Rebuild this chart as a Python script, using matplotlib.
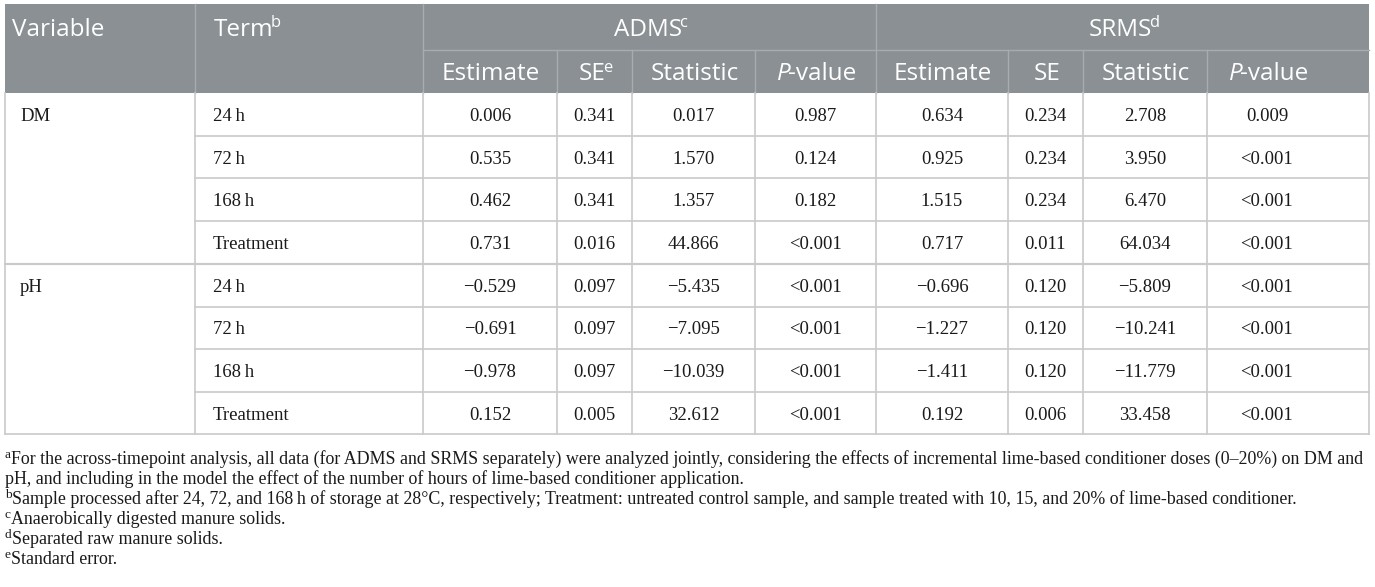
import matplotlib
matplotlib.use("Agg")
import matplotlib.pyplot as plt
from matplotlib.patches import Rectangle

# table content
variables = ["DM", "pH"]
terms = ["24\u2009h", "72\u2009h", "168\u2009h", "Treatment"]
sub_headers = ["Estimate", "SE", "Statistic", "P-value"]

adms_estimate = [0.006, 0.535, 0.462, 0.731, -0.529, -0.691, -0.978, 0.152]
adms_se = [0.341, 0.341, 0.341, 0.016, 0.097, 0.097, 0.097, 0.005]
adms_stat = [0.017, 1.570, 1.357, 44.866, -5.435, -7.095, -10.039, 32.612]
adms_p = ["0.987", "0.124", "0.182", "<0.001", "<0.001", "<0.001", "<0.001", "<0.001"]

srms_estimate = [0.634, 0.925, 1.515, 0.717, -0.696, -1.227, -1.411, 0.192]
srms_se = [0.234, 0.234, 0.234, 0.011, 0.120, 0.120, 0.120, 0.006]
srms_stat = [2.708, 3.950, 6.470, 64.034, -5.809, -10.241, -11.779, 33.458]
srms_p = ["0.009", "<0.001", "<0.001", "<0.001", "<0.001", "<0.001", "<0.001", "<0.001"]

footnotes = [
    ("a", "For the across-timepoint analysis, all data (for ADMS and SRMS separately) were analyzed jointly, "
          "considering the effects of incremental lime-based conditioner doses (0\u201320%) on DM and"),
    ("", "pH, and including in the model the effect of the number of hours of lime-based conditioner application."),
    ("b", "Sample processed after 24, 72, and 168\u2009h of storage at 28\u00b0C, respectively; Treatment: untreated "
          "control sample, and sample treated with 10, 15, and 20% of lime-based conditioner."),
    ("c", "Anaerobically digested manure solids."),
    ("d", "Separated raw manure solids."),
    ("e", "Standard error."),
]

# layout (pixels)
W, H = 1375, 587
col_edges = [5, 195, 423, 557, 632, 755, 876, 1008, 1083, 1207, 1369]
col_centers = [(a + b) / 2 for a, b in zip(col_edges[:-1], col_edges[1:])]
col_centers[-1] = 1267
head_top, head_mid, head_bot = 4, 50, 93
row_edges = [93, 136, 178, 221, 264, 307, 349, 392, 434]

HEAD_BG = "#8a9093"
HEAD_LINE = "#a7acaf"
GRID = "#cacaca"
TXT = "#1a1a1a"
SANS = "Open Sans"
SERIF = "Liberation Serif"
HEAD_SIZE = 17.5
BODY_SIZE = 13.5
FOOT_SIZE = 12.85

fig = plt.figure(figsize=(W / 100, H / 100), dpi=100)
ax = fig.add_axes([0, 0, 1, 1])
ax.set_xlim(0, W)
ax.set_ylim(H, 0)
ax.axis("off")
renderer = fig.canvas.get_renderer()


def rich(x, y, parts, ha="left", size=12, family=SANS, color=TXT, sup_scale=0.68, gap=-2.5):
    # parts: list of (text, style) where style in {"", "sup", "it"}
    arts = []
    widths = []
    px = size * 100 / 72
    for s, style in parts:
        kw = dict(fontsize=size, family=family, color=color)
        yy = y
        if style == "sup":
            kw["fontsize"] = size * sup_scale
            yy = y - px * 0.36
        if style == "it":
            kw["style"] = "italic"
        t = ax.text(0, yy, s, va="baseline", ha="left", **kw)
        arts.append(t)
        widths.append(t.get_window_extent(renderer).width + gap)
    start = x - sum(widths) / 2 if ha == "center" else x
    for t, w in zip(arts, widths):
        t.set_x(start)
        start += w


def baseline(y_center, size):
    return y_center + size * 100 / 72 * 0.36


# header background
ax.add_patch(Rectangle((col_edges[0], head_top), col_edges[-1] - col_edges[0], head_bot - head_top,
                       facecolor=HEAD_BG, edgecolor="none"))
ax.plot([col_edges[2], col_edges[-1]], [head_mid, head_mid], color=HEAD_LINE, lw=1)
for x in [col_edges[1], col_edges[2], col_edges[6]]:
    ax.plot([x, x], [head_top, head_bot], color=HEAD_LINE, lw=1)
for x in col_edges[3:6] + col_edges[7:10]:
    ax.plot([x, x], [head_mid, head_bot], color=HEAD_LINE, lw=1)

# header text
yb1 = baseline((head_top + head_mid) / 2, HEAD_SIZE)
yb2 = baseline((head_mid + head_bot) / 2, HEAD_SIZE)
hw = dict(size=HEAD_SIZE, family=SANS, color="white")
rich(12, yb1, [("Variable", "")], **hw)
rich(214, yb1, [("Term", ""), ("b", "sup")], **hw)
rich((col_edges[2] + col_edges[6]) / 2, yb1, [("ADMS", ""), ("c", "sup")], ha="center", **hw)
rich((col_edges[6] + col_edges[-1]) / 2, yb1, [("SRMS", ""), ("d", "sup")], ha="center", **hw)
for g in range(2):
    for k, name in enumerate(sub_headers):
        cx = col_centers[2 + 4 * g + k]
        if name == "P-value":
            parts = [("P", "it"), ("-value", "")]
        elif name == "SE" and g == 0:
            parts = [("SE", ""), ("e", "sup")]
        else:
            parts = [(name, "")]
        rich(cx, yb2, parts, ha="center", **hw)

# body grid
for i, y in enumerate(row_edges[1:]):
    x0 = col_edges[0] if i in (3, 7) else col_edges[1]
    ax.plot([x0, col_edges[-1]], [y, y], color=GRID, lw=1.6 if i == 3 else 1.2)
for x in col_edges:
    ax.plot([x, x], [row_edges[0], row_edges[-1]], color=GRID, lw=1.2)

# body text
columns = [adms_estimate, adms_se, adms_stat, adms_p, srms_estimate, srms_se, srms_stat, srms_p]
for r in range(8):
    yc = (row_edges[r] + row_edges[r + 1]) / 2
    if r % 4 == 0:
        ax.text(20, yc, variables[r // 4], ha="left", va="center_baseline",
                fontsize=BODY_SIZE, family=SERIF, color=TXT)
    ax.text(213, yc, terms[r % 4], ha="left", va="center_baseline",
            fontsize=BODY_SIZE, family=SERIF, color=TXT)
    for c, col in enumerate(columns):
        v = col[r]
        s = v if isinstance(v, str) else f"{v:.3f}".replace("-", "\u2212")
        ax.text(col_centers[2 + c], yc, s, ha="center", va="center_baseline",
                fontsize=BODY_SIZE, family=SERIF, color=TXT)

# footnotes
fy = 458
for mark, txt in footnotes:
    yb = baseline(fy, FOOT_SIZE)
    if mark:
        rich(5, yb, [(mark, "sup"), (txt, "")], size=FOOT_SIZE, family=SERIF, sup_scale=0.75, gap=0.5)
    else:
        rich(5, yb, [(txt, "")], size=FOOT_SIZE, family=SERIF)
    fy += 20

fig.savefig("out.png", dpi=100)
